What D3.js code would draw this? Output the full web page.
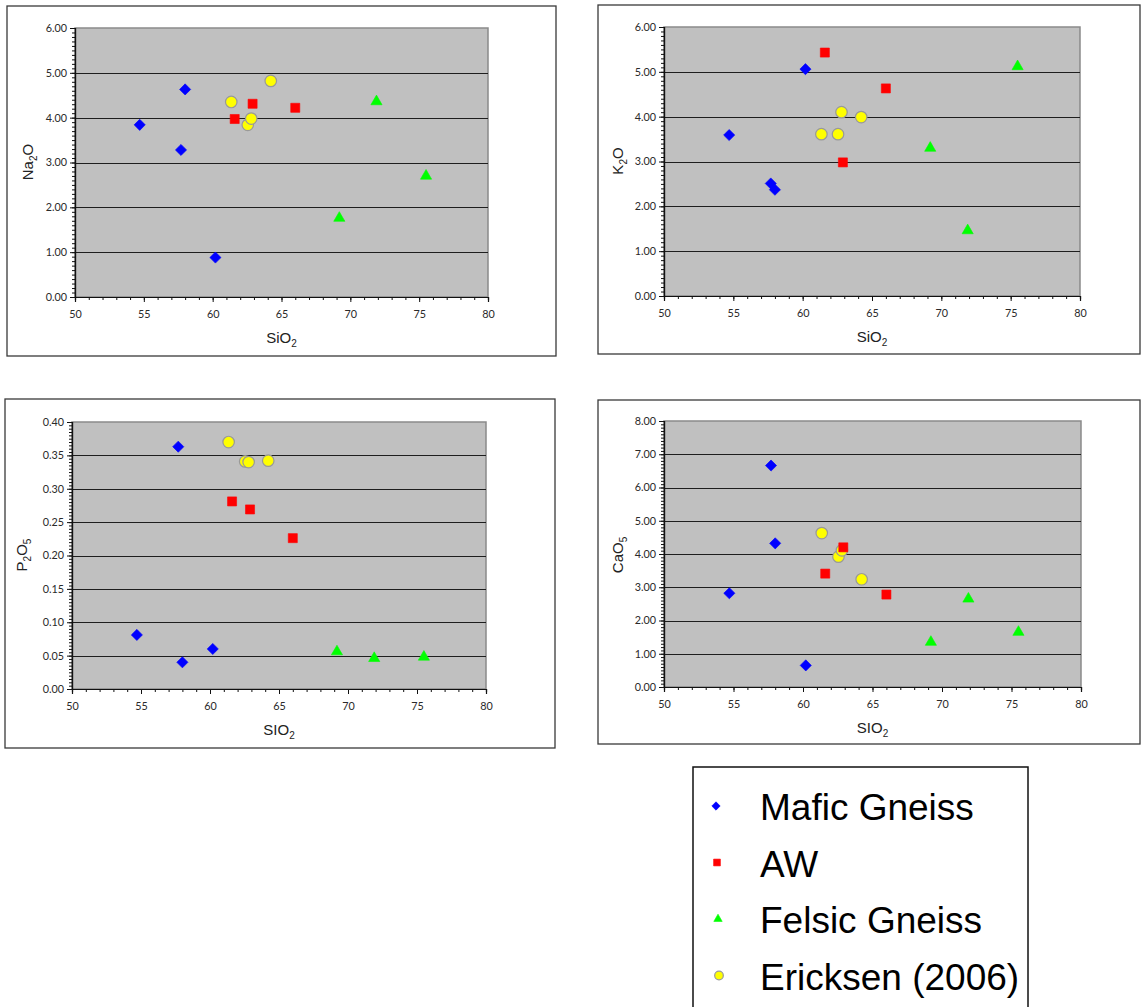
<!DOCTYPE html>
<html>
<head>
<meta charset="utf-8">
<script src="https://cdn.jsdelivr.net/npm/d3@7"></script>
<style>
  body { margin: 0; background: #fff; }
  svg { display: block; }
</style>
</head>
<body>
<div id="chart"></div>
<script>
// sample data (wt%)
var seriesNames = ["Mafic Gneiss", "AW", "Felsic Gneiss", "Ericksen (2006)"];

var maficSiO2 = [54.7, 57.7, 58.0, 60.2];
var maficNa2O = [3.84, 3.28, 4.63, 0.88];
var maficK2O  = [3.59, 2.51, 2.37, 5.06];
var maficP2O5 = [0.081, 0.363, 0.040, 0.060];
var maficCaO  = [2.82, 6.66, 4.32, 0.65];

var awSiO2 = [61.6, 62.9, 66.0];
var awNa2O = [3.97, 4.31, 4.22];
var awK2O  = [5.43, 2.98, 4.63];
var awP2O5 = [0.281, 0.269, 0.226];
var awCaO  = [3.41, 4.20, 2.78];

var felsicSiO2 = [69.2, 71.9, 75.5];
var felsicNa2O = [1.76, 4.36, 2.70];
var felsicK2O  = [3.30, 1.46, 5.12];
var felsicP2O5 = [0.056, 0.046, 0.048];
var felsicCaO  = [1.35, 2.65, 1.65];

var ericSiO2 = [61.35, 62.55, 62.8, 64.22];
var ericNa2O = [4.35, 3.84, 3.98, 4.82];
var ericK2O  = [3.61, 3.61, 4.10, 3.99];
var ericP2O5 = [0.370, 0.341, 0.340, 0.342];
var ericCaO  = [4.63, 3.92, 4.11, 3.24];

var xTicks = [50, 55, 60, 65, 70, 75, 80];

var svg = d3.select("#chart").append("svg")
  .attr("width", 1143)
  .attr("height", 1007);

// marker styles per series
var markers = {
  "Mafic Gneiss":    { type: d3.symbolSquare,   size: 62, fill: "#0000ff", stroke: "#0000ff", rot: 45 },
  "AW":              { type: d3.symbolSquare,   size: 82, fill: "#ff0000", stroke: "#ff0000", rot: 0 },
  "Felsic Gneiss":   { type: d3.symbolTriangle, size: 54, fill: "#00ff00", stroke: "#00ff00", rot: 0 },
  "Ericksen (2006)": { type: d3.symbolCircle,   size: 104, fill: "#ffff00", stroke: "#999999", rot: 0 }
};

function drawMarker(g, name, x, y, scale) {
  var m = markers[name];
  g.append("path")
    .attr("d", d3.symbol().type(m.type).size(m.size * scale * scale)())
    .attr("transform", "translate(" + x + "," + y + ") rotate(" + m.rot + ")")
    .attr("fill", m.fill)
    .attr("stroke", m.stroke)
    .attr("stroke-width", name == "Ericksen (2006)" ? 1.2 : 0.6);
}

function subLabel(g, x, y, parts, rotate) {
  var t = g.append("text")
    .attr("x", x).attr("y", y)
    .attr("text-anchor", "middle")
    .attr("font-family", "Liberation Sans, Arial, sans-serif")
    .attr("font-size", 15)
    .attr("fill", "#222");
  if (rotate) t.attr("transform", "rotate(-90," + x + "," + y + ")");
  parts.forEach(function(p) {
    if (p.sub) {
      t.append("tspan").attr("font-size", 10).attr("dy", 4).text(p.t);
    } else {
      t.append("tspan").attr("dy", p.back ? -4 : 0).text(p.t);
    }
  });
}

function drawPanel(cfg) {
  var g = svg.append("g");

  // outer chart frame
  g.append("rect")
    .attr("x", cfg.frame[0]).attr("y", cfg.frame[1])
    .attr("width", cfg.frame[2] - cfg.frame[0])
    .attr("height", cfg.frame[3] - cfg.frame[1])
    .attr("fill", "#fff")
    .attr("stroke", "#3a3a3a")
    .attr("stroke-width", 1.3);

  var x = d3.scaleLinear().domain([50, 80]).range([cfg.plot[0], cfg.plot[2]]);
  var y = d3.scaleLinear().domain([0, cfg.yMax]).range([cfg.plot[3], cfg.plot[1]]);

  // plot area
  g.append("rect")
    .attr("x", cfg.plot[0]).attr("y", cfg.plot[1])
    .attr("width", cfg.plot[2] - cfg.plot[0])
    .attr("height", cfg.plot[3] - cfg.plot[1])
    .attr("fill", "#c0c0c0")
    .attr("stroke", "#8a8a8a")
    .attr("stroke-width", 1.5);

  // gridlines
  var yMajor = d3.range(0, cfg.yMax + cfg.yStep / 2, cfg.yStep);
  g.selectAll(".grid").data(yMajor.slice(1, -1)).enter()
    .append("line")
    .attr("x1", cfg.plot[0]).attr("x2", cfg.plot[2])
    .attr("y1", d => Math.round(y(d)) + 0.5).attr("y2", d => Math.round(y(d)) + 0.5)
    .attr("stroke", "#1e1e1e")
    .attr("stroke-width", 1.2);

  // minor ticks
  var xMinor = g.append("g")
    .attr("transform", "translate(0," + cfg.plot[3] + ")")
    .call(d3.axisBottom(x).tickValues(d3.range(50, 81, 1)).tickSize(3).tickFormat(""));
  var yMinor = g.append("g")
    .attr("transform", "translate(" + cfg.plot[0] + ",0)")
    .call(d3.axisLeft(y).tickValues(d3.range(0, cfg.yMax + 1e-9, cfg.yStep / 10)).tickSize(3).tickFormat(""));

  // major axes
  var xAxis = g.append("g")
    .attr("transform", "translate(0," + cfg.plot[3] + ")")
    .call(d3.axisBottom(x).tickValues(xTicks).tickSize(5).tickPadding(8));
  var yAxis = g.append("g")
    .attr("transform", "translate(" + cfg.plot[0] + ",0)")
    .call(d3.axisLeft(y).tickValues(yMajor).tickSize(5).tickPadding(3).tickFormat(d3.format(".2f")));

  [xMinor, yMinor, xAxis, yAxis].forEach(function(a) {
    a.select(".domain").attr("stroke", "#111").attr("stroke-width", 1.2);
    a.selectAll(".tick line").attr("stroke", "#111");
    a.selectAll("text")
      .attr("font-family", "Lato, Open Sans, sans-serif")
      .attr("font-size", 10.8)
      .attr("fill", "#2a2a2a");
  });

  // points, in the order the spreadsheet drew them
  var groups = [
    ["Ericksen (2006)", ericSiO2, cfg.vals[3]],
    ["Mafic Gneiss", maficSiO2, cfg.vals[0]],
    ["AW", awSiO2, cfg.vals[1]],
    ["Felsic Gneiss", felsicSiO2, cfg.vals[2]]
  ];
  groups.forEach(function(s) {
    s[1].forEach(function(sx, i) {
      drawMarker(g, s[0], x(sx), y(s[2][i]), 1);
    });
  });

  // axis titles
  subLabel(g, (cfg.plot[0] + cfg.plot[2]) / 2, cfg.plot[3] + 46, cfg.xTitle, false);
  subLabel(g, cfg.yTitlePos[0], cfg.yTitlePos[1], cfg.yTitle, true);
}

var siTitle = [{ t: "SiO" }, { t: "2", sub: true }];
var sITitle = [{ t: "SIO" }, { t: "2", sub: true }];

drawPanel({
  frame: [7, 6, 556, 356], plot: [75, 28, 488, 297],
  yMax: 6, yStep: 1,
  vals: [maficNa2O, awNa2O, felsicNa2O, ericNa2O],
  xTitle: siTitle,
  yTitle: [{ t: "Na" }, { t: "2", sub: true }, { t: "O", back: true }],
  yTitlePos: [33, 162]
});

drawPanel({
  frame: [598, 5, 1140, 354], plot: [664, 27, 1080, 296],
  yMax: 6, yStep: 1,
  vals: [maficK2O, awK2O, felsicK2O, ericK2O],
  xTitle: siTitle,
  yTitle: [{ t: "K" }, { t: "2", sub: true }, { t: "O", back: true }],
  yTitlePos: [623, 161]
});

drawPanel({
  frame: [5, 399, 555, 748], plot: [72, 422, 486, 689],
  yMax: 0.4, yStep: 0.05,
  vals: [maficP2O5, awP2O5, felsicP2O5, ericP2O5],
  xTitle: sITitle,
  yTitle: [{ t: "P" }, { t: "2", sub: true }, { t: "O", back: true }, { t: "5", sub: true }],
  yTitlePos: [27, 555]
});

drawPanel({
  frame: [598, 400, 1140, 744], plot: [664, 421, 1081, 687],
  yMax: 8, yStep: 1,
  vals: [maficCaO, awCaO, felsicCaO, ericCaO],
  xTitle: sITitle,
  yTitle: [{ t: "CaO" }, { t: "5", sub: true }],
  yTitlePos: [623, 555]
});

// legend
var legend = svg.append("g");
legend.append("rect")
  .attr("x", 693).attr("y", 767)
  .attr("width", 335).attr("height", 260)
  .attr("fill", "#fff")
  .attr("stroke", "#111")
  .attr("stroke-width", 1.5);

seriesNames.forEach(function(name, i) {
  var cy = 806 + i * 56.5;
  drawMarker(legend, name, 716 + i, cy, 0.75);
  legend.append("text")
    .attr("x", 760)
    .attr("y", cy + 14)
    .attr("font-family", "Liberation Sans, Arial, sans-serif")
    .attr("font-size", 37)
    .attr("fill", "#000")
    .text(name);
});
</script>
</body>
</html>
